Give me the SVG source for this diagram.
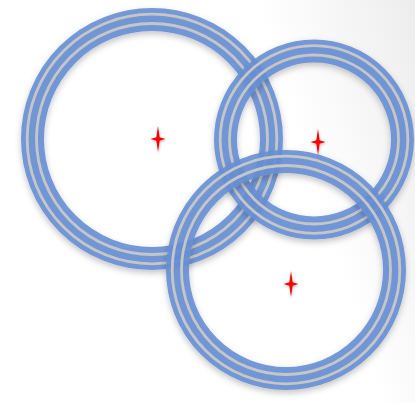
<svg xmlns="http://www.w3.org/2000/svg" width="415" height="403" viewBox="0 0 415 403">
  <defs>
    <linearGradient id="bg" x1="0" y1="0.3" x2="1" y2="0">
      <stop offset="0.65" stop-color="#ffffff"/>
      <stop offset="1" stop-color="#ededed"/>
    </linearGradient>
    <filter id="sh" x="-20%" y="-20%" width="140%" height="140%">
      <feDropShadow dx="0" dy="3" stdDeviation="3" flood-color="#000" flood-opacity="0.25"/>
    </filter>
    <filter id="glow" x="-50%" y="-50%" width="200%" height="200%">
      <feDropShadow dx="0.5" dy="1.5" stdDeviation="1.2" flood-color="#000" flood-opacity="0.25"/>
    </filter>
    <path id="star" d="M0,-13 L1.7,-1.7 L7.5,0 L1.7,1.7 L0,13 L-1.7,1.7 L-7.5,0 L-1.7,-1.7 Z"/>
  </defs>
  <style>
    .ring { filter: url(#sh); }
    .band { fill: none; stroke: #668fd5; stroke-width: 23; stroke-opacity: 0.9; }
    .line { fill: none; stroke: #c6c6c6; stroke-width: 2.8; }
    .star { fill: #ff0000; filter: url(#glow); }
  </style>
  <rect width="415" height="403" fill="url(#bg)"/>
  <g id="ring1" class="ring">
    <circle class="band" cx="152" cy="139" r="119.5"/>
    <circle class="line" cx="152" cy="139" r="124.8"/>
    <circle class="line" cx="152" cy="139" r="115.5"/>
  </g>
  <g id="ring2" class="ring">
    <circle class="band" cx="314" cy="139.5" r="88.5"/>
    <circle class="line" cx="314" cy="139.5" r="93.8"/>
    <circle class="line" cx="314" cy="139.5" r="84.5"/>
  </g>
  <g id="ring3" class="ring">
    <circle class="band" cx="286" cy="270" r="108.5"/>
    <circle class="line" cx="286" cy="270" r="113.8"/>
    <circle class="line" cx="286" cy="270" r="104.5"/>
  </g>
  <g id="star1"><use href="#star" class="star" x="158" y="139"/></g>
  <g id="star2"><use href="#star" class="star" x="318" y="142"/></g>
  <g id="star3"><use href="#star" class="star" x="291" y="284"/></g>
</svg>
